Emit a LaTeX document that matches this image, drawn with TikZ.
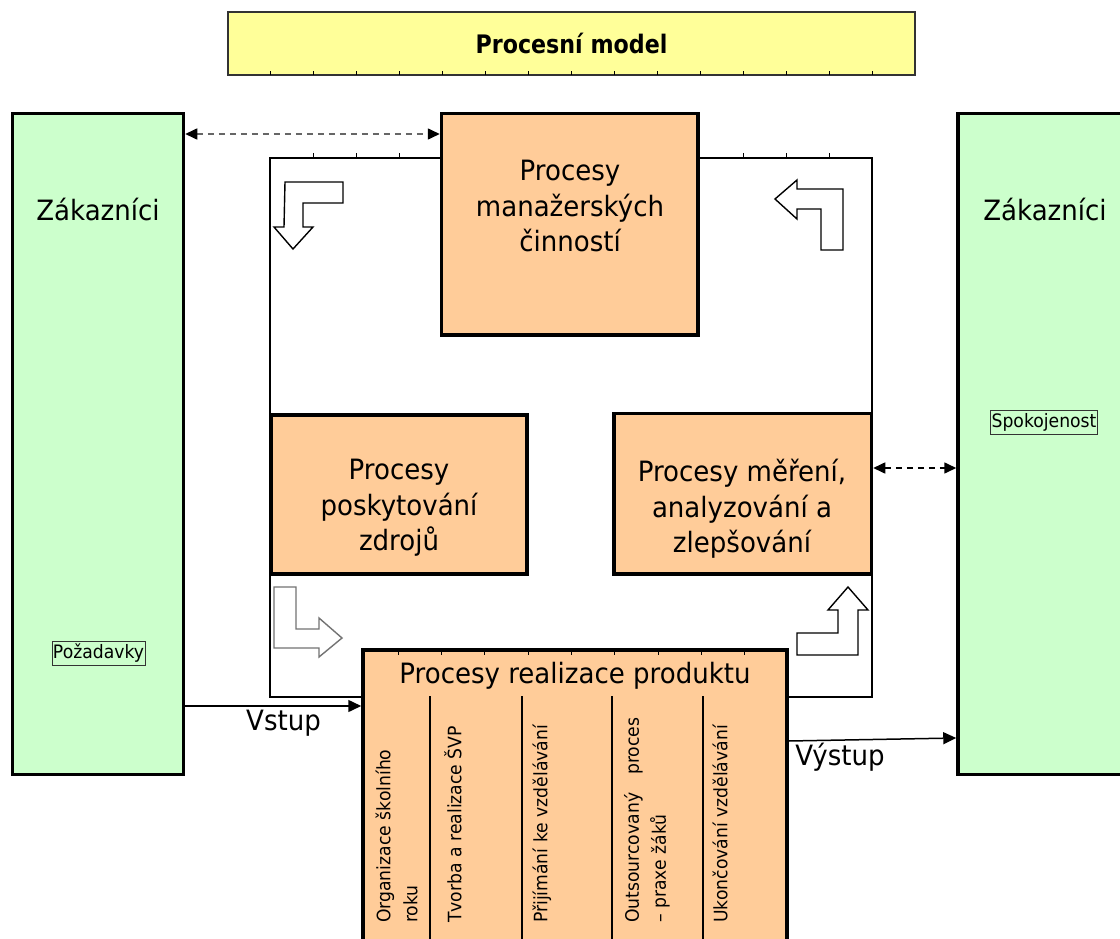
\documentclass[tikz,border=0pt]{standalone}
\usepackage{fontspec}
\usetikzlibrary{arrows.meta}
\newfontfamily\tah[FakeStretch=0.93]{DejaVu Sans}
\newfontfamily\tahhead[FakeStretch=0.87]{DejaVu Sans}
\definecolor{custgreen}{HTML}{CCFFCC}
\definecolor{procorange}{HTML}{FFCC99}
\definecolor{headyellow}{HTML}{FFFF99}
\newcommand{\stacklines}[1]{\begin{tabular}{@{}l@{}}#1\end{tabular}}
\tikzset{
  custbox/.style={draw=black, line width=3.5pt, fill=custgreen, inner sep=0pt},
  procbox/.style={draw=black, line width=3.5pt, fill=procorange, inner sep=0pt},
  titlebox/.style={draw=black!80, line width=1.8pt, fill=headyellow, inner sep=0pt,
    font=\tahhead\bfseries\fontsize{25.5}{30}\selectfont},
  bigtext/.style={font=\tah\fontsize{28}{35.5}\selectfont, inner sep=0pt},
  coltext/.style={font=\tah\fontsize{18.5}{27}\selectfont, rotate=90, anchor=west,
    inner sep=0pt},
  tagbox/.style={draw=black!80, line width=0.9pt, font=\tah\fontsize{18.5}{22}\selectfont,
    inner xsep=1pt, inner ysep=3pt},
  flow/.style={-{Triangle[length=13pt,width=12pt]}, line width=1.5pt},
  link/.style={{Triangle[length=12pt,width=11pt,color=black]}-{Triangle[length=12pt,width=11pt,color=black]},
    dash pattern=on 6pt off 5pt, line width=1.6pt},
  turn/.style={draw=black, line width=1.4pt, fill=white, line join=miter},
  tick/.style={line width=1pt},
  divider/.style={line width=1.2pt},
}
\begin{document}
\begin{tikzpicture}[x=1pt,y=-1pt]
\useasboundingbox (0,0) rectangle (1120,939);
\clip (0,0) rectangle (1120,939);
\fill[white] (0,0) rectangle (1120,939);

% heading
\node[titlebox, minimum width=687pt, minimum height=63pt] (title) at (571.5,43.5) {Procesní model};
\foreach \k in {1,...,15}
  \draw[tick] (228+42.94*\k,75) -- (228+42.94*\k,71.5);

% frame holding the process boxes
\node[draw=black, line width=1.2pt, minimum width=602pt, minimum height=539pt, inner sep=0pt]
  (frame) at (571,427.5) {};
\foreach \x in {313,356,399,743,786,829}
  \draw[tick] (\x,157) -- (\x,153.5);

% customers
\node[custbox, minimum width=171pt, minimum height=661pt] (custL) at (98,444) {};
\node[custbox, minimum width=174pt, minimum height=661pt] (custR) at (1045,444) {};

% processes
\node[procbox, minimum width=256.5pt, minimum height=221.5pt] (mgmt) at (569.75,224.25) {};
\node[procbox, minimum width=255.5pt, minimum height=159pt] (res) at (399.25,494.5) {};
\node[procbox, minimum width=257.5pt, minimum height=160.5pt] (meas) at (742.75,493.75) {};
\node[procbox, minimum width=424pt, minimum height=330pt] (real) at (575,815) {};
\foreach \k in {1,...,9}
  \draw[tick] (355+43.3*\k,651) -- (355+43.3*\k,655);
\foreach \x in {430,522,612,703}
  \draw[divider] (\x,696) -- (\x,945);

% cycle arrows
\draw[turn] (285,182) -- (343,182) -- (343,203) -- (303,203) -- (303,227) -- (313,227)
  -- (293,249) -- (274,227) -- (284,227) -- cycle;
\draw[turn] (775,199) -- (797,180) -- (797,189) -- (843,189) -- (843,250) -- (821,250)
  -- (821,209) -- (797,209) -- (797,219) -- cycle;
\draw[turn, draw=black!55] (274,587) -- (296,587) -- (296,629) -- (319,629) -- (319,618)
  -- (342,638) -- (319,657) -- (319,648) -- (274,648) -- cycle;
\draw[turn] (848,587) -- (868,610) -- (858,610) -- (858,655) -- (797,655) -- (797,633)
  -- (838,633) -- (838,610) -- (828,610) -- cycle;

% connectors
\coordinate (yTop) at (0,134);
\coordinate (yMeas) at (0,468);
\coordinate (yIn) at (0,706);
\coordinate (yOutA) at (0,741);
\coordinate (yOutB) at (0,738);
\draw[link, draw=black!60] (custL.east |- yTop) -- (mgmt.west |- yTop);
\draw[link, draw=black] (meas.east |- yMeas) -- (custR.west |- yMeas);
\draw[flow] (custL.east |- yIn) -- (real.west |- yIn);
\draw[flow] (real.east |- yOutA) -- (custR.west |- yOutB);

% texts
\node[bigtext, anchor=base] (custLtext) at (98,220) {Zákazníci};
\node[bigtext, anchor=base] (custRtext) at (1045,220) {Zákazníci};
\node[bigtext, align=center] (mgmtText) at (570,206) {Procesy\\manažerských\\činností};
\node[bigtext, align=center] (resText) at (399,508) {Procesy\\poskytování\\zdrojů};
\node[bigtext, align=center] (measText) at (742,509) {Procesy měření,\\analyzování a\\zlepšování};
\node[bigtext, anchor=base] (realText) at (575,683) {Procesy realizace produktu};
\node[bigtext, anchor=base] (inLabel) at (283.5,730) {Vstup};
\node[bigtext, anchor=base] (outLabel) at (840,765) {Výstup};
\node[tagbox] (reqTag) at (98.5,653.5) {Požadavky};
\node[tagbox] (satTag) at (1044,422) {Spokojenost};

% activities of product realisation, set upright along the columns
\node[coltext] (c1) at (398.5,923) {\stacklines{Organizace školního\\roku}};
\node[coltext] (c2) at (453,923) {Tvorba a realizace ŠVP};
\node[coltext] (c3) at (542,923) {Přijímání ke vzdělávání};
\node[coltext] (c4) at (647,923) {\stacklines{Outsourcovaný\hspace{18pt}proces\\– praxe žáků}};
\node[coltext] (c5) at (720,923) {Ukončování vzdělávání};
\end{tikzpicture}
\end{document}
